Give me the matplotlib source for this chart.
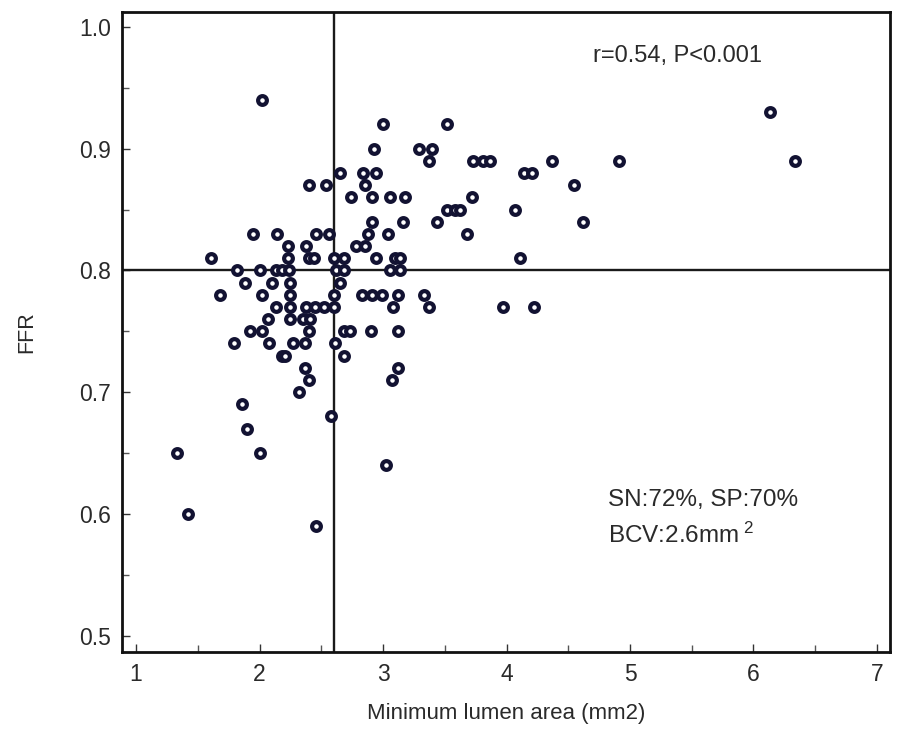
import matplotlib
matplotlib.use("Agg")
import matplotlib.pyplot as plt
import numpy as np
from matplotlib.ticker import MultipleLocator, FormatStrFormatter

plt.rcParams['font.family'] = ['Liberation Sans', 'DejaVu Sans']
plt.rcParams['mathtext.fontset'] = 'custom'
plt.rcParams['mathtext.rm'] = 'Liberation Sans'
plt.rcParams['mathtext.it'] = 'Liberation Sans'

# Minimum lumen area (mm2) and FFR values, grouped by FFR level
mla = [
    2.02,
    6.13,
    3.00, 3.52,
    2.93, 3.29, 3.40,
    3.37, 3.73, 3.81, 3.87, 4.37, 4.91, 6.34,
    2.65, 2.84, 2.94, 4.14, 4.21,
    2.40, 2.54, 2.85, 4.55,
    2.74, 2.91, 3.06, 3.18, 3.72,
    3.52, 3.58, 3.62, 4.07,
    2.91, 3.16, 3.44, 4.62,
    1.95, 2.14, 2.46, 2.56, 2.88, 3.04, 3.68,
    2.23, 2.38, 2.78, 2.85,
    1.61, 2.23, 2.40, 2.44, 2.60, 2.68, 2.94, 3.10, 3.14, 4.11,
    1.82, 2.00, 2.13, 2.18, 2.24, 2.62, 2.68, 3.06, 3.14,
    1.88, 2.10, 2.25, 2.65,
    1.68, 2.02, 2.25, 2.60, 2.83, 2.91, 2.99, 3.12, 3.33,
    2.13, 2.25, 2.38, 2.45, 2.52, 2.60, 3.08, 3.37, 3.97, 4.22,
    2.07, 2.25, 2.35, 2.41,
    1.92, 2.02, 2.40, 2.68, 2.73, 2.90, 3.12,
    1.79, 2.08, 2.27, 2.37, 2.61,
    2.18, 2.21, 2.68,
    2.37, 3.12,
    2.40, 3.07,
    2.32,
    1.86,
    2.58,
    1.90,
    1.33, 2.00,
    3.02,
    1.42,
    2.46,
]
ffr = (
    [0.94]
    + [0.93]
    + [0.92] * 2
    + [0.90] * 3
    + [0.89] * 7
    + [0.88] * 5
    + [0.87] * 4
    + [0.86] * 5
    + [0.85] * 4
    + [0.84] * 4
    + [0.83] * 7
    + [0.82] * 4
    + [0.81] * 10
    + [0.80] * 9
    + [0.79] * 4
    + [0.78] * 9
    + [0.77] * 10
    + [0.76] * 4
    + [0.75] * 7
    + [0.74] * 5
    + [0.73] * 3
    + [0.72] * 2
    + [0.71] * 2
    + [0.70]
    + [0.69]
    + [0.68]
    + [0.67]
    + [0.65] * 2
    + [0.64]
    + [0.60]
    + [0.59]
)

cutoff_mla = 2.6
cutoff_ffr = 0.80
x_ticks = [1, 2, 3, 4, 5, 6, 7]
y_ticks = [0.5, 0.6, 0.7, 0.8, 0.9, 1.0]

fig = plt.figure(figsize=(8.98, 7.35), dpi=100)
ax = fig.add_axes([0.136, 0.113, 0.855, 0.871])

ax.plot(mla, ffr, linestyle='none', marker='o', markersize=6.3,
        markerfacecolor='white', markeredgecolor='#121232', markeredgewidth=3.0,
        zorder=3)

ax.axvline(cutoff_mla, color='#1a1a1a', lw=1.7, zorder=2)
ax.axhline(cutoff_ffr, color='#1a1a1a', lw=1.7, zorder=2)

ax.set_xlim(0.887, 7.105)
ax.set_ylim(0.4865, 1.0125)
ax.set_xticks(x_ticks)
ax.set_yticks(y_ticks)
ax.xaxis.set_minor_locator(MultipleLocator(0.5))
ax.yaxis.set_minor_locator(MultipleLocator(0.05))
ax.yaxis.set_major_formatter(FormatStrFormatter('%.1f'))

ax.tick_params(axis='both', which='major', direction='in', length=6, width=1.0,
               labelsize=16.5, colors='#333333', labelcolor='#2a2a2a', pad=8)
ax.tick_params(axis='both', which='minor', direction='in', length=5, width=1.0,
               colors='#555555')

for s in ax.spines.values():
    s.set_linewidth(2.0)
    s.set_color('#111111')

ax.set_xlabel('Minimum lumen area (mm2)', fontsize=16, color='#2a2a2a', labelpad=12)
ax.set_ylabel('FFR', fontsize=15.5, color='#2a2a2a', labelpad=30)

ax.text(4.70, 0.976, 'r=0.54, P<0.001', fontsize=17, color='#2a2a2a',
        ha='left', va='center')
ax.text(4.82, 0.611, 'SN:72%, SP:70%', fontsize=17.5, color='#2a2a2a',
        ha='left', va='center')
ax.text(4.82, 0.582, r'BCV:2.6mm$^{\ 2}$', fontsize=17.5, color='#2a2a2a',
        ha='left', va='center')

fig.savefig('out.png', dpi=100)
